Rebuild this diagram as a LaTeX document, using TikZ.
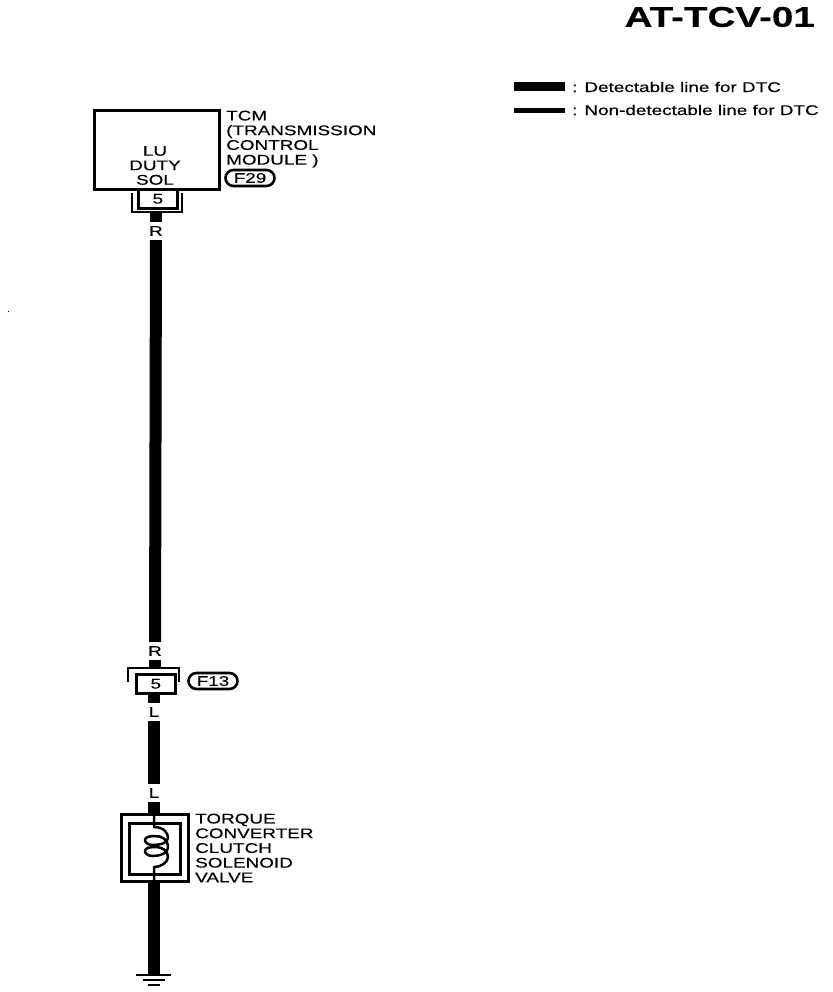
\documentclass[tikz,border=0pt]{standalone}
\usepackage{fontspec}
\setmainfont[FakeStretch=1.35,FakeBold=0.35]{Liberation Sans}
\usetikzlibrary{shapes.misc}
\tikzset{
  box/.style={draw=black,line width=2.6pt,fill=white,inner sep=0pt,anchor=north west},
  pin/.style={box,font=\fontsize{14}{14}\selectfont},
  pill/.style={draw=black,line width=2.6pt,rounded rectangle,inner sep=0pt,font=\fontsize{14}{14}\selectfont},
  lab/.style={inner sep=0pt,align=left,anchor=north west,font=\fontsize{14}{14.7}\selectfont},
  wirelab/.style={inner sep=0pt,minimum height=18pt,minimum width=12pt,font=\fontsize{14}{14}\selectfont},
  thickwire/.style={line width=12pt,black},
  thinwire/.style={line width=2.5pt,black},
  shell/.style={line width=2.6pt,black},
  legthick/.style={line width=9pt,black},
  legthin/.style={line width=5pt,black}
}
\begin{document}
\begin{tikzpicture}[x=1pt,y=-1pt]
\useasboundingbox (0,0) rectangle (832,992);
% title and legend
\node[anchor=east,inner sep=0pt,font=\fontsize{28.6}{28.6}\selectfont\bfseries] (title) at (815,17) {AT-TCV-01};
\coordinate (la) at (514,87); \coordinate (lb) at (565,87);
\coordinate (lc) at (514,111); \coordinate (ld) at (565,111);
\draw[legthick] (la) -- (lb);
\draw[legthin] (lc) -- (ld);
\node[anchor=west,inner sep=0pt,font=\fontsize{14}{14}\selectfont] (lt1) at (572,87) {: Detectable line for DTC};
\node[anchor=west,inner sep=0pt,font=\fontsize{14}{14}\selectfont] (lt2) at (572,110) {: Non-detectable line for DTC};
% TCM
\node[box,minimum width=125pt,minimum height=79pt] (tcm) at (93,109) {};
\node[inner sep=0pt,align=center,anchor=south,font=\fontsize{14}{14.5}\selectfont] (tcmsol) at (155,185) {LU\\DUTY\\SOL};
\node[lab] (tcmlab) at (226,110.5) {TCM\\(TRANSMISSION\\CONTROL\\MODULE )};
\node[pill,minimum width=49pt,minimum height=16pt] (f29) at (250,178) {F29};
% connector 1
\draw[shell] (132,193) -- (132,212) -- (182,212) -- (182,193);
\node[pin,minimum width=39pt,minimum height=19pt,align=center] (p1) at (137,188) {5};
\coordinate (c1) at (156,212);
\node[wirelab] (r1) at (156,231) {R};
\node[wirelab] (r2) at (155,651) {R};
\draw[thickwire] (c1) -- (r1);
\draw[thickwire] (r1) -- (r2);
% connector 2
\coordinate (c2) at (155,668);
\draw[thickwire] (r2) -- (c2);
\draw[shell] (128,682) -- (128,668) -- (179,668) -- (179,682);
\node[pin,minimum width=39pt,minimum height=19pt,align=center] (p2) at (135,673) {5};
\node[pill,minimum width=49pt,minimum height=16pt] (f13) at (213,681) {F13};
\node[wirelab] (l1) at (154,712) {L};
\node[wirelab] (l2) at (154,793) {L};
\draw[thickwire] (p2.south -| l1) -- (l1);
\draw[thickwire] (l1) -- (l2);
% solenoid
\node[box,fill=none,minimum width=67pt,minimum height=67pt] (sol) at (120,813) {};
\node[box,fill=none,minimum width=51pt,minimum height=51pt] (solin) at (128,822) {};
\draw[thickwire] (l2) -- (sol.north -| l2);
\draw[thinwire,line join=round] (sol.north -| l2) -- (154,827)
  .. controls (164,827) and (168,833) .. (168,838)
  .. controls (168,843) and (160,845) .. (153,845)
  .. controls (147,845) and (145,842) .. (145,840)
  .. controls (145,837) and (150,836) .. (155,836)
  .. controls (162,836) and (168,839) .. (168,848)
  .. controls (168,853) and (160,856) .. (153,856)
  .. controls (147,856) and (145,853) .. (145,851)
  .. controls (145,848) and (150,847) .. (155,847)
  .. controls (163,847) and (168,851) .. (168,857)
  .. controls (168,863) and (160,867) .. (154,867)
  -- (sol.south -| l2);
\node[lab] (sollab) at (195,813.5) {TORQUE\\CONVERTER\\CLUTCH\\SOLENOID\\VALVE};
% ground
\coordinate (g1) at (154,975);
\draw[thickwire] (sol.south -| g1) -- (g1);
\coordinate (ga) at (136,975); \coordinate (gb) at (171,975);
\coordinate (gc) at (143,980); \coordinate (gd) at (165,980);
\coordinate (ge) at (148,985); \coordinate (gf) at (160,985);
\draw[line width=2.5pt] (ga) -- (gb);
\draw[line width=2.5pt] (gc) -- (gd);
\draw[line width=2.5pt] (ge) -- (gf);
\fill (7.5,311) rectangle (8.5,312);
\end{tikzpicture}
\end{document}
